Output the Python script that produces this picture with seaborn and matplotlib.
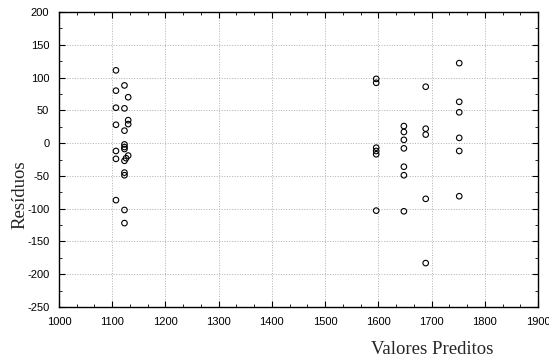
import matplotlib
matplotlib.use("Agg")
import matplotlib.pyplot as plt
import seaborn as sns
import pandas as pd
from matplotlib.ticker import MultipleLocator, AutoMinorLocator

# Data
valores_preditos = [
    1107, 1123, 1107, 1130, 1107, 1123, 1130, 1130, 1107, 1123,
    1123, 1123, 1123, 1130, 1107, 1107, 1123, 1126, 1123, 1123,
    1107, 1123, 1123,
    1596, 1596, 1596, 1596, 1596, 1596,
    1648, 1648, 1648, 1648, 1648, 1648, 1648,
    1689, 1689, 1689, 1689, 1689,
    1752, 1752, 1752, 1752, 1752, 1752,
]
residuos = [
    111, 88, 80, 70, 54, 53, 35, 29, 28, 19,
    -2, -6, -9, -19, -12, -24, -27, -23, -45, -49,
    -87, -102, -122,
    98, 92, -7, -12, -17, -103,
    26, 17, 5, -8, -36, -49, -104,
    86, 22, 13, -85, -183,
    122, 63, 47, 8, -12, -81,
]
x_ticks = [1000, 1100, 1200, 1300, 1400, 1500, 1600, 1700, 1800, 1900]
y_ticks = [-250, -200, -150, -100, -50, 0, 50, 100, 150, 200]

df = pd.DataFrame({"Valores Preditos": valores_preditos, "Resíduos": residuos})

sns.set_style("white")
fig = plt.figure(figsize=(5.49, 3.63), dpi=100)
ax = fig.add_axes([59 / 549, 1 - 307 / 363, 479 / 549, 295 / 363])

sns.scatterplot(data=df, x="Valores Preditos", y="Resíduos", ax=ax,
                marker="o", s=16, facecolor="none", edgecolor="black",
                linewidth=0.8, zorder=3)

ax.set_xlim(1000, 1900)
ax.set_ylim(-250, 200)
ax.set_xticks(x_ticks)
ax.set_yticks(y_ticks)
ax.set_xticklabels([str(v) for v in x_ticks])
ax.set_yticklabels([str(v) for v in y_ticks])
ax.xaxis.set_minor_locator(AutoMinorLocator(3))
ax.yaxis.set_minor_locator(AutoMinorLocator(2))

ax.grid(True, which="major", linestyle=":", color="#b0b0b0", linewidth=0.7, zorder=0)
ax.set_axisbelow(True)
for sp in ax.spines.values():
    sp.set_color("black")
    sp.set_linewidth(1.0)
    sp.set_visible(True)

ax.tick_params(which="both", direction="in", top=True, right=True,
               bottom=True, left=True, color="black")
ax.tick_params(which="major", length=4, width=0.8, labelsize=8, pad=7,
               labelcolor="black")
ax.tick_params(which="minor", length=2, width=0.6)
for lab in ax.get_xticklabels() + ax.get_yticklabels():
    lab.set_family("Liberation Sans")

ax.set_xlabel("")
ax.set_ylabel("")
fig.text(432 / 549, 1 - 350 / 363, "Valores Preditos", family="Liberation Serif",
         fontsize=13.5, ha="center", va="center")
fig.text(20 / 549, 1 - 195 / 363, "Resíduos", family="Liberation Serif",
         fontsize=13.5, ha="center", va="center", rotation=90)

fig.savefig("out.png", dpi=100)
